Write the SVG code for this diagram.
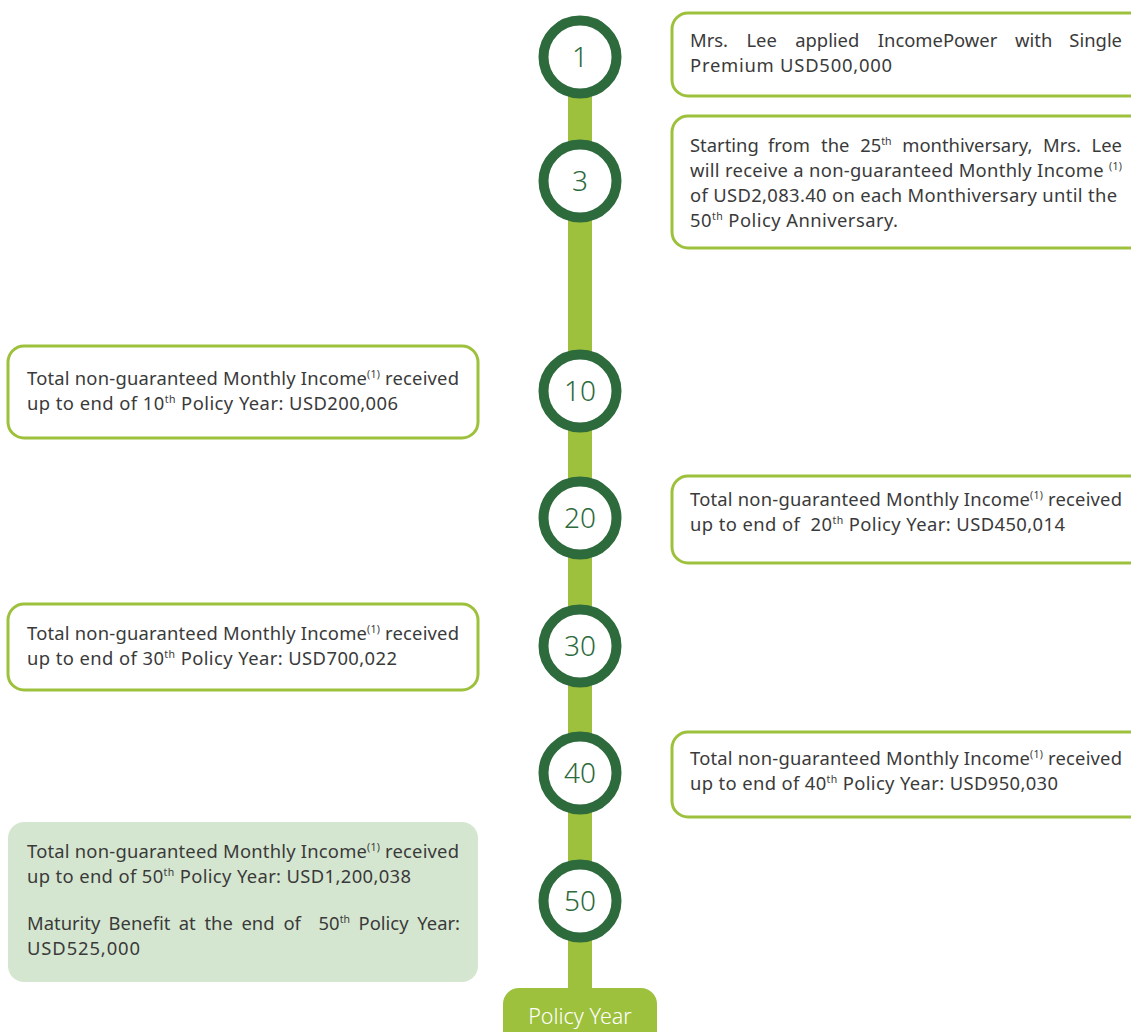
<svg xmlns="http://www.w3.org/2000/svg" width="1131" height="1032" viewBox="0 0 1131 1032">
<style>
.box{fill:#fff;stroke:#9dc13d;stroke-width:3}
.boxf{fill:#d5e6d0;stroke:none}
.t{font-family:"Noto Sans","Liberation Sans",Arial,sans-serif;font-size:18.4px;fill:#3a3a3a}
.sup{font-size:10.5px}
.ring{fill:#fff;stroke:#2d6a3c;stroke-width:10}
.num{font-family:"Noto Sans","Liberation Sans",sans-serif;font-weight:300;font-size:28px;fill:#2d6a3c;text-anchor:middle}
.bar{fill:#9dc13d}
.py{font-family:"Noto Sans","Liberation Sans",sans-serif;font-weight:300;font-size:21.5px;fill:#fff;text-anchor:middle}
</style>
<rect width="1131" height="1032" fill="#fff"/>
<g id="connectors">
<rect class="bar" x="568" y="60" width="24" height="935"/>
</g>
<g id="policy-year">
<rect x="503" y="988" width="154" height="60" rx="16" fill="#9dc13d"/>
<text class="py" x="580" y="1024">Policy Year</text>
</g>
<g id="year-1">
<circle class="ring" cx="580" cy="57" r="36.5"/>
<text class="num" x="580" y="67">1</text>
</g>
<g id="year-3">
<circle class="ring" cx="580" cy="181" r="36.5"/>
<text class="num" x="580" y="191">3</text>
</g>
<g id="year-10">
<circle class="ring" cx="580" cy="391" r="36.5"/>
<text class="num" x="580" y="401">10</text>
</g>
<g id="year-20">
<circle class="ring" cx="580" cy="518" r="36.5"/>
<text class="num" x="580" y="528">20</text>
</g>
<g id="year-30">
<circle class="ring" cx="580" cy="646" r="36.5"/>
<text class="num" x="580" y="656">30</text>
</g>
<g id="year-40">
<circle class="ring" cx="580" cy="773" r="36.5"/>
<text class="num" x="580" y="783">40</text>
</g>
<g id="year-50">
<circle class="ring" cx="580" cy="901" r="36.5"/>
<text class="num" x="580" y="911">50</text>
</g>
<g id="box-1">
<rect class="box" x="672" y="13" width="480" height="83" rx="16"/>
<text class="t" y="47"><tspan x="690">Mrs.</tspan><tspan x="746.4">Lee</tspan><tspan x="795.2">applied</tspan><tspan x="877.8">IncomePower</tspan><tspan x="1015.1">with</tspan><tspan x="1122" text-anchor="end">Single</tspan></text>
<text class="t" x="690" y="72" textLength="202" lengthAdjust="spacing">Premium USD500,000</text>
</g>
<g id="box-3">
<rect class="box" x="672" y="116" width="480" height="132" rx="16"/>
<text class="t" y="152"><tspan x="690">Starting</tspan><tspan x="768">from</tspan><tspan x="821.1">the</tspan><tspan x="860.2">25<tspan class="sup" dy="-7">th</tspan></tspan><tspan x="902.3" dy="7">monthiversary,</tspan><tspan x="1043">Mrs.</tspan><tspan x="1122" text-anchor="end">Lee</tspan></text>
<text class="t" x="690" y="177" textLength="432" lengthAdjust="spacing">will receive a non-guaranteed Monthly Income <tspan class="sup" dy="-7">(1)</tspan></text>
<text class="t" x="690" y="202" textLength="427" lengthAdjust="spacing">of USD2,083.40 on each Monthiversary until the</text>
<text class="t" x="690" y="227" textLength="208" lengthAdjust="spacing">50<tspan class="sup" dy="-7">th</tspan><tspan dy="7"> Policy Anniversary.</tspan></text>
</g>
<g id="box-10">
<rect class="box" x="8" y="346" width="470" height="92" rx="16"/>
<text class="t" x="27" y="385" textLength="432" lengthAdjust="spacing">Total non-guaranteed Monthly Income<tspan class="sup" dy="-7">(1)</tspan><tspan dy="7"> received</tspan></text>
<text class="t" x="27" y="410" textLength="371" lengthAdjust="spacing">up to end of 10<tspan class="sup" dy="-7">th</tspan><tspan dy="7"> Policy Year: USD200,006</tspan></text>
</g>
<g id="box-20">
<rect class="box" x="672" y="476" width="480" height="87" rx="16"/>
<text class="t" x="690" y="506" textLength="432" lengthAdjust="spacing">Total non-guaranteed Monthly Income<tspan class="sup" dy="-7">(1)</tspan><tspan dy="7"> received</tspan></text>
<text class="t" x="690" y="531" textLength="375" lengthAdjust="spacing" xml:space="preserve">up to end of  20<tspan class="sup" dy="-7">th</tspan><tspan dy="7"> Policy Year: USD450,014</tspan></text>
</g>
<g id="box-30">
<rect class="box" x="8" y="604" width="470" height="86" rx="16"/>
<text class="t" x="27" y="640" textLength="432" lengthAdjust="spacing">Total non-guaranteed Monthly Income<tspan class="sup" dy="-7">(1)</tspan><tspan dy="7"> received</tspan></text>
<text class="t" x="27" y="665" textLength="370" lengthAdjust="spacing">up to end of 30<tspan class="sup" dy="-7">th</tspan><tspan dy="7"> Policy Year: USD700,022</tspan></text>
</g>
<g id="box-40">
<rect class="box" x="672" y="732" width="480" height="85" rx="16"/>
<text class="t" x="690" y="765" textLength="432" lengthAdjust="spacing">Total non-guaranteed Monthly Income<tspan class="sup" dy="-7">(1)</tspan><tspan dy="7"> received</tspan></text>
<text class="t" x="690" y="790" textLength="368" lengthAdjust="spacing">up to end of 40<tspan class="sup" dy="-7">th</tspan><tspan dy="7"> Policy Year: USD950,030</tspan></text>
</g>
<g id="box-50">
<rect class="boxf" x="8" y="822" width="470" height="160" rx="16"/>
<text class="t" x="27" y="858" textLength="432" lengthAdjust="spacing">Total non-guaranteed Monthly Income<tspan class="sup" dy="-7">(1)</tspan><tspan dy="7"> received</tspan></text>
<text class="t" x="27" y="883" textLength="384" lengthAdjust="spacing">up to end of 50<tspan class="sup" dy="-7">th</tspan><tspan dy="7"> Policy Year: USD1,200,038</tspan></text>
<text class="t" y="930"><tspan x="27">Maturity</tspan><tspan x="108.6">Benefit</tspan><tspan x="178.8">at</tspan><tspan x="204.4">the</tspan><tspan x="241.4">end</tspan><tspan x="283.4">of</tspan><tspan x="318.6">50<tspan class="sup" dy="-7">th</tspan></tspan><tspan x="358.6" dy="7">Policy</tspan><tspan x="460" text-anchor="end">Year:</tspan></text>
<text class="t" x="27" y="955" textLength="113" lengthAdjust="spacing">USD525,000</text>
</g>
</svg>
